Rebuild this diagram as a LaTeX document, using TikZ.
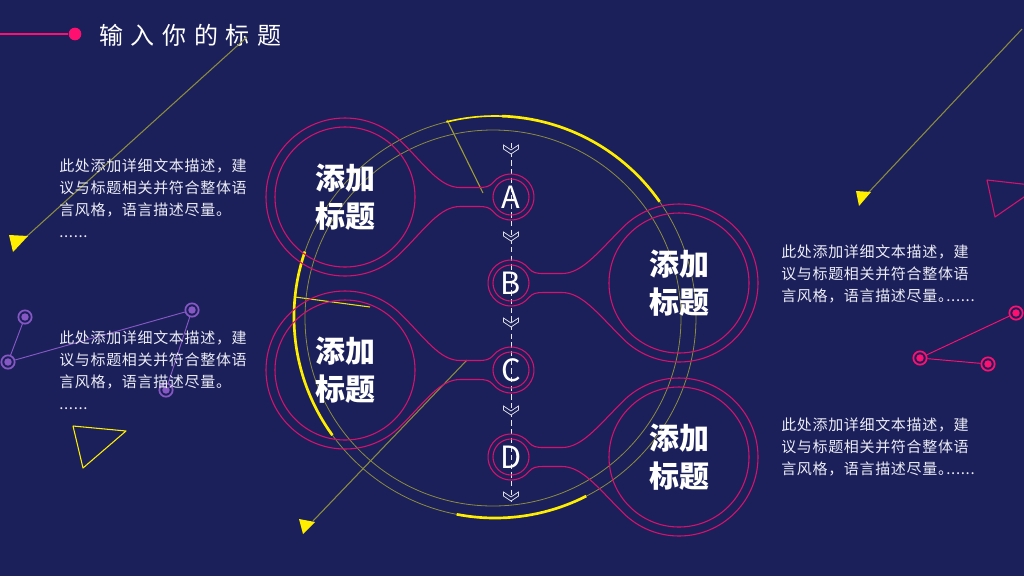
\documentclass[tikz,border=0pt]{standalone}
\usepackage{fontspec}
\newfontfamily\cjk{Noto Sans CJK SC}
\newfontfamily\cjkt[LetterSpace=32]{Noto Sans CJK SC}
\newfontfamily\cjkbody[LetterSpace=4.5]{Noto Sans CJK SC}
\definecolor{bg}{RGB}{27,32,90}
\definecolor{mpink}{RGB}{214,18,108}
\definecolor{tpink}{RGB}{255,16,112}
\definecolor{mpurple}{RGB}{135,88,196}
\definecolor{olv}{RGB}{140,140,62}
\definecolor{yel}{RGB}{255,238,0}
\definecolor{txt}{RGB}{236,236,246}
\newcommand\mball[4]{%
  \begin{scope}[shift={(#1,#2)}, xscale=#3]
    \draw[pinkline] (55.86,-55.86) .. controls (80.9,-30.9) and ({#4-71},-9.5) .. ({#4-51},-9.5)
      -- ({#4-33},-9.5) .. controls ({#4-25},-9.5) and ({#4-21.5},-10.2) .. ({#4-17.62},-14.78)
      arc[start angle=220, end angle=500, radius=23]
      .. controls ({#4-21.5},10.2) and ({#4-25},9.5) .. ({#4-33},9.5)
      -- ({#4-51},9.5) .. controls ({#4-71},9.5) and (80.9,30.9) .. (55.86,55.86)
      arc[start angle=45, end angle=315, radius=79] -- cycle;
  \end{scope}}
\begin{document}
\begin{tikzpicture}[x=0.75pt,y=-0.75pt,
  pinkline/.style={draw=mpink, line width=0.8pt},
  thinolive/.style={draw=olv, line width=0.6pt},
  yarc/.style={draw=yel, line width=2pt},
  deco/.style={draw=olv, line width=0.8pt},
  ytri/.style={fill=yel},
  chev/.style={draw=white!85!bg, line width=0.6pt, line join=miter},
  letter/.style={circle, draw=mpink, line width=0.8pt, minimum size=27pt, inner sep=0pt, text=white, font=\cjk\fontsize{23}{26}\selectfont},
  bigc/.style={circle, draw=mpink, line width=0.8pt, minimum size=105pt, inner sep=0pt, text=white, align=center, font=\cjk\bfseries\fontsize{22.5}{28.5}\selectfont},
  body/.style={anchor=north west, inner sep=0pt, text=txt, align=left, font=\cjkbody\fontsize{11.25}{16.3}\selectfont},
  pnode/.style={circle, draw=mpurple, line width=1.3pt, minimum size=10pt, inner sep=0pt,
     path picture={\fill[mpurple] (path picture bounding box.center) circle (2.8pt);}},
  knode/.style={circle, draw=tpink, line width=1.3pt, minimum size=10pt, inner sep=0pt,
     path picture={\fill[tpink] (path picture bounding box.center) circle (2.8pt);}}
]
\useasboundingbox (0,0) rectangle (1024,576);
\fill[bg] (0,0) rectangle (1024,576);

% title
\coordinate (tl) at (0,34);
\node[circle, fill=tpink, minimum size=9.5pt, inner sep=0pt] (tdot) at (75,34) {};
\draw[tpink, line width=1pt] (tl) -- (tdot);
\node[anchor=west, inner sep=0pt, text=white, font=\cjkt\fontsize{18}{20}\selectfont] (title) at (99,35) {输入你的标题};

% decorative networks
\node[pnode] (p1) at (25,317) {};
\node[pnode] (p2) at (8,362) {};
\node[pnode] (p3) at (192,310) {};
\node[pnode] (p4) at (166,390) {};
\draw[mpurple, line width=0.7pt] (p1) -- (p2) -- (p3) -- (p4);
\node[knode] (q1) at (1016,313) {};
\node[knode] (q2) at (920,358) {};
\node[knode] (q3) at (988,364) {};
\draw[tpink, line width=0.7pt] (q1) -- (q2) -- (q3);

% outlined triangles
\draw[yel, line width=0.8pt, line join=round] (73,426) -- (126,431) -- (83,468) -- cycle;
\draw[mpink, line width=0.8pt, line join=round] (987,180) -- (1040,186) -- (995,217) -- cycle;

% lines with yellow arrow triangles
\coordinate (a1) at (247,37); \coordinate (a1e) at (26,237);
\draw[deco] (a1) -- (a1e);
\fill[ytri] (9,235) -- (28,236) -- (13,252) -- cycle;
\coordinate (a2) at (1022,29); \coordinate (a2e) at (868,193);
\draw[deco] (a2) -- (a2e);
\fill[ytri] (856,191) -- (871,192) -- (859,206) -- cycle;
\coordinate (a3) at (467,360); \coordinate (a3e) at (313,521);
\draw[deco] (a3) -- (a3e);
\fill[ytri] (299,519) -- (315,522) -- (303,534) -- cycle;
\coordinate (a4) at (447,120); \coordinate (a4e) at (483,193);
\draw[deco, draw=olv!80!yel] (a4) -- (a4e);
\coordinate (a5) at (295,297); \coordinate (a5e) at (370,307);
\draw[deco, draw=yel!85!olv] (a5) -- (a5e);

% big circles (olive / yellow)
\draw[thinolive] (495,317) circle[radius=201];
\draw[thinolive] (493,318) circle[radius=188];
\draw[yarc, line width=1.2pt] (495,317) ++(-104:201) arc[start angle=-104, end angle=-88, radius=201];
\draw[yarc] (495,317) ++(-88:201) arc[start angle=-88, end angle=-35, radius=201];
\draw[yarc] (495,317) ++(144:201) arc[start angle=144, end angle=199, radius=201];
\draw[yarc] (495,317) ++(63:201) arc[start angle=63, end angle=101, radius=201];

% dashed axis and chevrons
\coordinate (ax1) at (511,143); \coordinate (ax2) at (511,502);
\draw[white!90!bg, line width=0.7pt, dash pattern=on 4pt off 2.5pt] (ax1) -- (ax2);
\foreach \yy in {150,237,323,411,497}{
  \fill[bg] (511,\yy) ++(-7.5,-5) -- ++(7.5,5) -- ++(7.5,-5) -- ++(0,4) -- ++(-7.5,5) -- ++(-7.5,-5) -- cycle;
  \draw[chev] (511,\yy) ++(-7.5,-5) -- ++(7.5,5) -- ++(7.5,-5) -- ++(0,4) -- ++(-7.5,5) -- ++(-7.5,-5) -- cycle;
}

% metaball outlines
\mball{345}{197}{1}{166}
\mball{345}{370}{1}{166}
\mball{679}{283}{-1}{168}
\mball{679}{457}{-1}{168}

% letter circles
\node[letter] (A) at (511,197) {A};
\node[letter] (B) at (511,283) {B};
\node[letter] (C) at (511,370) {C};
\node[letter] (D) at (511,457) {D};

% title circles
\node[bigc] (t1) at (345,197) {添加\\标题};
\node[bigc] (t2) at (345,370) {添加\\标题};
\node[bigc] (t3) at (679,283) {添加\\标题};
\node[bigc] (t4) at (679,457) {添加\\标题};

% body texts
\node[body] (b1) at (59,159) {此处添加详细文本描述，建\\议与标题相关并符合整体语\\言风格，语言描述尽量。\\......};
\node[body] (b2) at (59,331) {此处添加详细文本描述，建\\议与标题相关并符合整体语\\言风格，语言描述尽量。\\......};
\node[body] (b3) at (781,245) {此处添加详细文本描述，建\\议与标题相关并符合整体语\\言风格，语言描述尽量。\kern-5pt......};
\node[body] (b4) at (781,418) {此处添加详细文本描述，建\\议与标题相关并符合整体语\\言风格，语言描述尽量。\kern-5pt......};
\end{tikzpicture}
\end{document}
